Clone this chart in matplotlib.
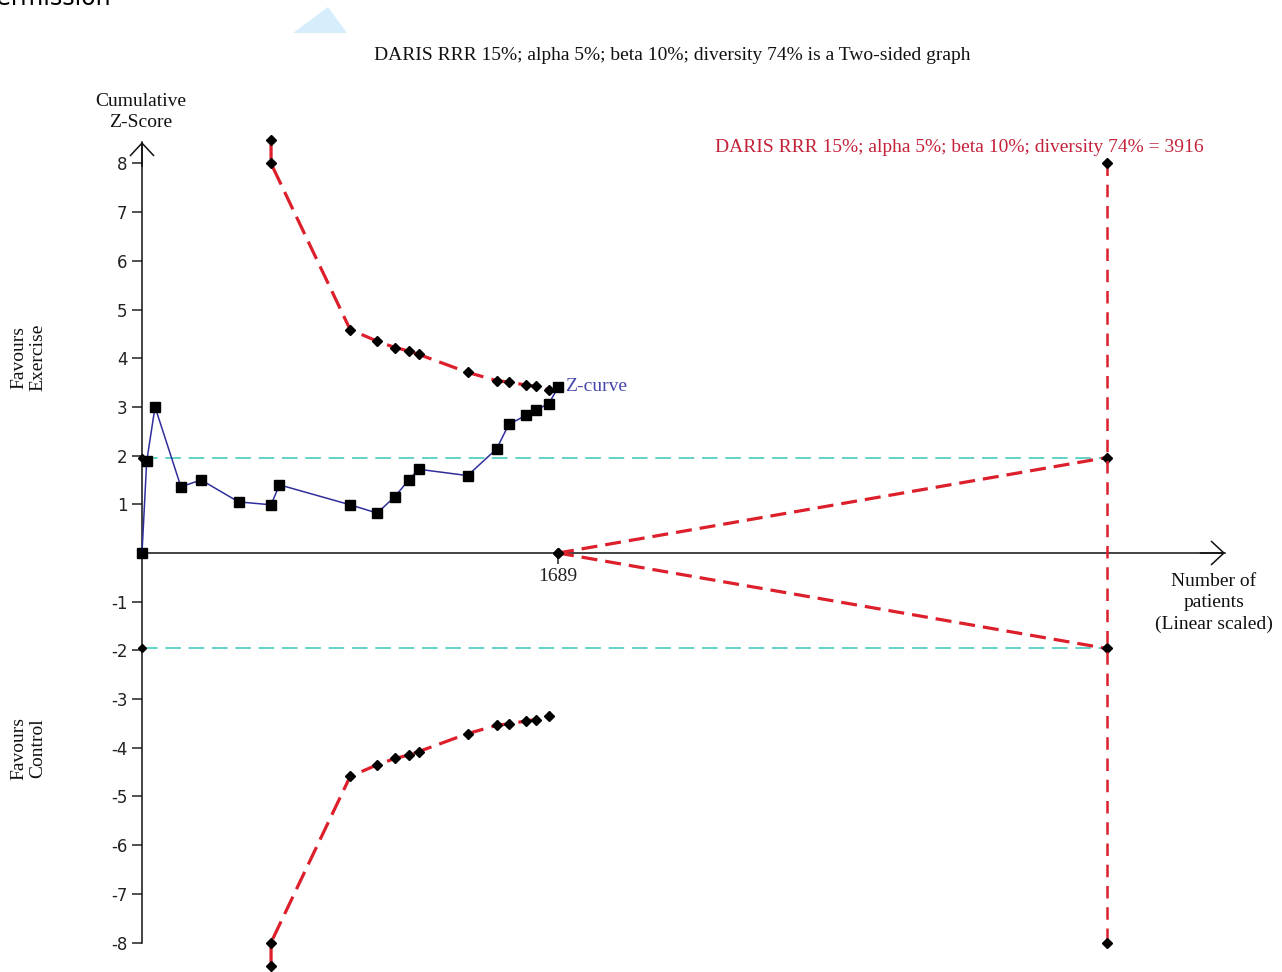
import matplotlib
matplotlib.use("Agg")
import matplotlib.pyplot as plt
from matplotlib.patches import Polygon

plt.rcParams['axes.unicode_minus'] = False

# Cumulative Z-curve (patients accrued, cumulative Z-score)
patients = [0, 19, 53, 158, 240, 392, 524, 558, 845, 955, 1027, 1083, 1123,
            1322, 1440, 1489, 1560, 1601, 1652, 1689]
z_curve = [0.0, 1.88, 3.00, 1.36, 1.50, 1.05, 0.99, 1.40, 0.99, 0.82, 1.16,
           1.50, 1.72, 1.59, 2.14, 2.64, 2.83, 2.94, 3.07, 3.40]

# Trial sequential monitoring boundaries (symmetric)
boundary_patients = [524, 524, 845, 955, 1027, 1083, 1123, 1322, 1440, 1489,
                     1560, 1601, 1652]
boundary_upper = [8.48, 8.0, 4.59, 4.35, 4.22, 4.15, 4.08, 3.71, 3.54, 3.51,
                  3.45, 3.42, 3.35]
boundary_lower = [-v for v in boundary_upper]

# Required information size and futility wedge
ris = 3916
wedge_start = 1689
z_conventional = 1.96
ris_cap = 8.0

y_ticks = [8, 7, 6, 5, 4, 3, 2, 1, -1, -2, -3, -4, -5, -6, -7, -8]
x_ticks = [1689]

title = "DARIS RRR 15%; alpha 5%; beta 10%; diversity 74% is a Two-sided graph"
ris_text = "DARIS RRR 15%; alpha 5%; beta 10%; diversity 74% = 3916"

SERIF = ["Liberation Serif", "DejaVu Serif"]
FS = 14
RED = "#dc1f2a"
RED_TEXT = "#c4213a"
CYAN = "#62d2c8"
BLUE = "#2f2f9c"
BLUE_TEXT = "#4646ad"

W, H = 1282, 972
fig = plt.figure(figsize=(W / 100, H / 100), dpi=100)

# faint remnants at the top of the page
fig.patches.append(Polygon([[293 / W, 1 - 33 / H], [347 / W, 1 - 33 / H],
                            [328 / W, 1 - 7 / H]], closed=True,
                           transform=fig.transFigure, facecolor="#d6eefb",
                           edgecolor="none"))
fig.text(-16 / W, 1 - 5 / H, "Permission", ha="left", va="baseline",
         fontsize=17, color="black", family="DejaVu Sans")

ax = fig.add_axes([0, 0, 1, 1])
x0_px, y0_px = 142, 553
sx = 416 / 1689
sy = (942 - 163) / 16
ax.set_xlim(-x0_px / sx, (W - x0_px) / sx)
ax.set_ylim((y0_px - H) / sy, y0_px / sy)
ax.patch.set_alpha(0)

x_tip = (1225 - x0_px) / sx
y_tip = (y0_px - 142) / sy

for side in ("top", "right"):
    ax.spines[side].set_visible(False)
ax.spines["left"].set_position(("data", 0))
ax.spines["bottom"].set_position(("data", 0))
ax.spines["left"].set_bounds(-8, y_tip)
ax.spines["bottom"].set_bounds(0, x_tip)
for side in ("left", "bottom"):
    ax.spines[side].set_linewidth(1.1)
    ax.spines[side].set_color("#111111")

ax.set_yticks(y_ticks)
ax.set_yticklabels([str(t) for t in y_ticks])
ax.tick_params(axis="y", direction="out", length=7.5, width=1.1, pad=3,
               labelsize=12, colors="#222222")
ax.set_xticks(x_ticks)
ax.set_xticklabels([str(t) for t in x_ticks], family=SERIF, fontsize=FS)
ax.tick_params(axis="x", direction="out", length=8, width=1.1, pad=3,
               colors="#222222")

arrow_kw = dict(arrowstyle="->,head_length=0.45,head_width=0.42",
                color="#111111", lw=1.1, mutation_scale=20,
                shrinkA=0, shrinkB=0)
ax.annotate("", xy=(0, y_tip), xytext=(0, y_tip - 0.5), arrowprops=arrow_kw)
ax.annotate("", xy=(x_tip, 0), xytext=(x_tip - 100, 0), arrowprops=arrow_kw)

# conventional significance thresholds
for zc in (z_conventional, -z_conventional):
    ax.plot([0, ris], [zc, zc], color=CYAN, lw=1.4, dashes=(8, 4), zorder=2)
    ax.plot([0], [zc], marker="D", ms=4.5, color="black", zorder=5)

# monitoring boundaries
bnd_kw = dict(color=RED, lw=2.3, dashes=(6, 2.6), marker="D", ms=4.8,
              markerfacecolor="black", markeredgecolor="black", zorder=3)
ax.plot(boundary_patients, boundary_upper, **bnd_kw)
ax.plot(boundary_patients, boundary_lower, **bnd_kw)

# futility wedge and required information size
wedge_kw = dict(color=RED, lw=2.3, dashes=(5, 2.5), marker="D", ms=4.8,
                markerfacecolor="black", markeredgecolor="black", zorder=3)
ax.plot([wedge_start, ris], [0, z_conventional], **wedge_kw)
ax.plot([wedge_start, ris], [0, -z_conventional], **wedge_kw)
ax.plot([ris, ris], [ris_cap, -ris_cap], color=RED, lw=1.8, dashes=(5, 3.5),
        marker="D", ms=4.8, markerfacecolor="black", markeredgecolor="black",
        zorder=3)

# cumulative Z-curve
ax.plot(patients, z_curve, color=BLUE, lw=1.1, marker="s", ms=6.5,
        markerfacecolor="black", markeredgecolor="black", zorder=6)
ax.text(patients[-1] + 28, z_curve[-1] + 0.03, "Z-curve", color=BLUE_TEXT,
        family=SERIF, fontsize=FS, ha="left", va="center")

# annotations
fig.text(672 / W, 1 - 55 / H, title, ha="center", va="center",
         family=SERIF, fontsize=FS, color="#111111")
fig.text(1204 / W, 1 - 148 / H, ris_text, ha="right", va="center",
         family=SERIF, fontsize=FS, color=RED_TEXT)
fig.text(141 / W, 1 - 112 / H, "Cumulative\nZ-Score", ha="center",
         va="center", family=SERIF, fontsize=FS, color="#111111",
         linespacing=1.3)
fig.text(1214 / W, 1 - 603 / H, "Number of\npatients\n(Linear scaled)",
         ha="center", va="center", family=SERIF, fontsize=FS,
         color="#111111", linespacing=1.35)
fig.text(28 / W, 1 - 357 / H, "Favours\nExercise", ha="center", va="center",
         rotation=90, family=SERIF, fontsize=FS, color="#111111",
         linespacing=1.15)
fig.text(28 / W, 1 - 748 / H, "Favours\nControl", ha="center", va="center",
         rotation=90, family=SERIF, fontsize=FS, color="#111111",
         linespacing=1.15)

fig.savefig("out.png", dpi=100)
